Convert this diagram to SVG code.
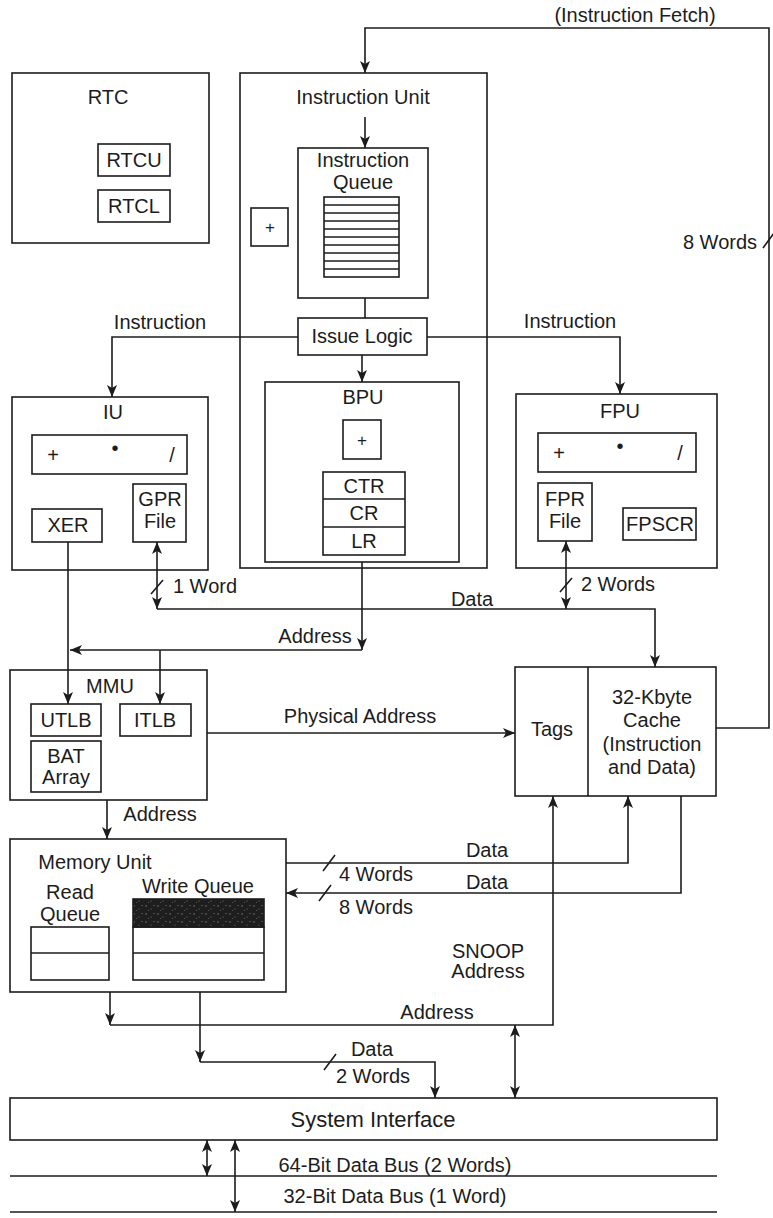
<svg xmlns="http://www.w3.org/2000/svg" width="773" height="1218" viewBox="0 0 773 1218">
<style>
.b{fill:none;stroke:#1c1c1c;stroke-width:1.6}
.w{fill:#fff;stroke:#1c1c1c;stroke-width:1.6}
.c{fill:none;stroke:#1c1c1c;stroke-width:1.6}
.a{marker-end:url(#ah)}
.d{marker-start:url(#ah);marker-end:url(#ah)}
text{font-family:"Liberation Sans",Arial,sans-serif;font-size:20px;fill:#1c1c1c;text-anchor:middle}
.s{font-size:17px}
</style>
<defs>
<marker id="ah" viewBox="0 0 12 10" refX="12" refY="5" markerWidth="12" markerHeight="10" markerUnits="userSpaceOnUse" orient="auto-start-reverse">
<path d="M0,0 L12,5 L0,10 L3,5 z" fill="#1c1c1c"/>
</marker>
<pattern id="noise" width="12" height="8" patternUnits="userSpaceOnUse">
<rect width="12" height="8" fill="#1e1e1e"/>
<circle cx="2" cy="2" r="0.7" fill="#888"/>
<circle cx="7" cy="5" r="0.6" fill="#777"/>
<circle cx="10" cy="1.5" r="0.5" fill="#999"/>
<circle cx="4.5" cy="6.5" r="0.5" fill="#666"/>
</pattern>
</defs>
<rect width="773" height="1218" fill="#fff"/>

<g id="rtc">
<rect class="b" x="12" y="73" width="197" height="170"/>
<text x="108" y="104">RTC</text>
<rect class="b" x="98" y="144" width="72" height="32"/>
<text x="134" y="167">RTCU</text>
<rect class="b" x="98" y="190" width="72" height="32"/>
<text x="134" y="213">RTCL</text>
</g>

<g id="instruction-unit">
<rect class="b" x="240" y="73" width="247" height="495"/>
<text x="363" y="104">Instruction Unit</text>
<rect class="b" x="251" y="208" width="37" height="38"/>
<text x="270" y="233" class="s">+</text>
</g>

<g id="instruction-queue">
<rect class="w" x="298" y="148" width="130" height="150"/>
<text x="363" y="167">Instruction</text>
<text x="363" y="189">Queue</text>
<rect class="b" x="324" y="197" width="75" height="80"/>
<path class="c" d="M324,205 H399 M324,213 H399 M324,221 H399 M324,229 H399 M324,237 H399 M324,245 H399 M324,253 H399 M324,261 H399 M324,269 H399"/>
</g>

<g id="issue-logic">
<rect class="w" x="298" y="318" width="129" height="37"/>
<text x="362" y="343">Issue Logic</text>
</g>

<g id="bpu">
<rect class="w" x="265" y="382" width="194" height="180"/>
<text x="363" y="404">BPU</text>
<rect class="b" x="343" y="420" width="38" height="39"/>
<text x="362" y="446" class="s">+</text>
<rect class="b" x="323" y="472" width="82" height="83"/>
<path class="c" d="M323,499 H405 M323,527 H405"/>
<text x="364" y="493">CTR</text>
<text x="364" y="520">CR</text>
<text x="364" y="548">LR</text>
</g>

<g id="iu">
<rect class="b" x="12" y="397" width="196" height="173"/>
<text x="113" y="419">IU</text>
<rect class="b" x="32" y="435" width="155" height="39"/>
<text x="53" y="462">+</text>
<text x="115" y="455">•</text>
<text x="172" y="462">/</text>
<rect class="b" x="133" y="484" width="53" height="58"/>
<text x="160" y="506">GPR</text>
<text x="160" y="528">File</text>
<rect class="b" x="32" y="509" width="70" height="33"/>
<text x="68" y="532">XER</text>
</g>

<g id="fpu">
<rect class="b" x="516" y="394" width="201" height="174"/>
<text x="620" y="418">FPU</text>
<rect class="b" x="538" y="433" width="158" height="39"/>
<text x="559" y="460">+</text>
<text x="620" y="453">•</text>
<text x="680" y="460">/</text>
<rect class="b" x="538" y="483" width="54" height="58"/>
<text x="565" y="506">FPR</text>
<text x="565" y="528">File</text>
<rect class="b" x="623" y="508" width="73" height="32"/>
<text x="660" y="531">FPSCR</text>
</g>

<g id="mmu">
<rect class="w" x="10" y="670" width="197" height="130"/>
<text x="110" y="693">MMU</text>
<rect class="b" x="31" y="704" width="70" height="32"/>
<text x="66" y="727">UTLB</text>
<rect class="b" x="120" y="704" width="71" height="32"/>
<text x="155" y="727">ITLB</text>
<rect class="b" x="31" y="741" width="70" height="51"/>
<text x="66" y="763">BAT</text>
<text x="66" y="784">Array</text>
</g>

<g id="cache">
<rect class="w" x="515" y="667" width="201" height="129"/>
<path class="c" d="M588,667 V796"/>
<text x="552" y="736">Tags</text>
<text x="652" y="704">32-Kbyte</text>
<text x="652" y="727">Cache</text>
<text x="652" y="751">(Instruction</text>
<text x="652" y="774">and Data)</text>
</g>

<g id="memory-unit">
<rect class="w" x="10" y="839" width="276" height="153"/>
<text x="95" y="869">Memory Unit</text>
<text x="70" y="899">Read</text>
<text x="70" y="921">Queue</text>
<text x="198" y="893">Write Queue</text>
<rect x="133" y="899" width="131" height="28" fill="url(#noise)" stroke="#1c1c1c" stroke-width="1.6"/>
<rect class="b" x="133" y="927" width="131" height="53"/>
<path class="c" d="M133,953 H264"/>
<rect class="b" x="31" y="927" width="78" height="53"/>
<path class="c" d="M31,953 H109"/>
</g>

<g id="system-interface">
<rect class="w" x="10" y="1098" width="707" height="42"/>
<text x="373" y="1127" style="font-size:22px">System Interface</text>
</g>

<g id="connectors">
<path class="c a" d="M716,728 H769 V28 H365 V73"/>
<path class="c a" d="M365,117 V148"/>
<path class="c" d="M365,298 V318"/>
<path class="c a" d="M362,355 V382"/>
<path class="c a" d="M298,337 H112 V397"/>
<path class="c a" d="M427,337 H620 V394"/>
<path class="c a" d="M362,562 V650"/>
<path class="c a" d="M362,650 H70"/>
<path class="c a" d="M160,650 V704"/>
<path class="c a" d="M68,542 V704"/>
<path class="c d" d="M157,542 V609"/>
<path class="c a" d="M157,609 H655 V667"/>
<path class="c d" d="M566,541 V609"/>
<path class="c a" d="M207,733 H515"/>
<path class="c a" d="M107,800 V839"/>
<path class="c a" d="M286,863 H628 V796"/>
<path class="c a" d="M681,796 V893 H286"/>
<path class="c a" d="M110,992 V1025"/>
<path class="c a" d="M110,1025 H553 V796"/>
<path class="c d" d="M515,1025 V1098"/>
<path class="c a" d="M200,992 V1062"/>
<path class="c a" d="M200,1062 H435 V1098"/>
<path class="c d" d="M207,1140 V1176"/>
<path class="c d" d="M235,1140 V1212"/>
<path class="c" d="M10,1176 H717 M10,1212 H717"/>
<path class="c" d="M763,248 L774,233 M151,594 L163,580 M560,592 L572,578 M323,871 L335,855 M319,901 L331,885 M324,1070 L336,1054"/>
<text x="635" y="22">(Instruction Fetch)</text>
<text x="720" y="249">8 Words</text>
<text x="160" y="329">Instruction</text>
<text x="570" y="328">Instruction</text>
<text x="205" y="593">1 Word</text>
<text x="618" y="591">2 Words</text>
<text x="472" y="606">Data</text>
<text x="315" y="643">Address</text>
<text x="360" y="723">Physical Address</text>
<text x="160" y="821">Address</text>
<text x="487" y="857">Data</text>
<text x="376" y="881">4 Words</text>
<text x="487" y="889">Data</text>
<text x="376" y="914">8 Words</text>
<text x="488" y="958">SNOOP</text>
<text x="488" y="978">Address</text>
<text x="437" y="1019">Address</text>
<text x="372" y="1056">Data</text>
<text x="373" y="1083">2 Words</text>
<text x="395" y="1172">64-Bit Data Bus (2 Words)</text>
<text x="395" y="1203">32-Bit Data Bus (1 Word)</text>
</g>
</svg>
